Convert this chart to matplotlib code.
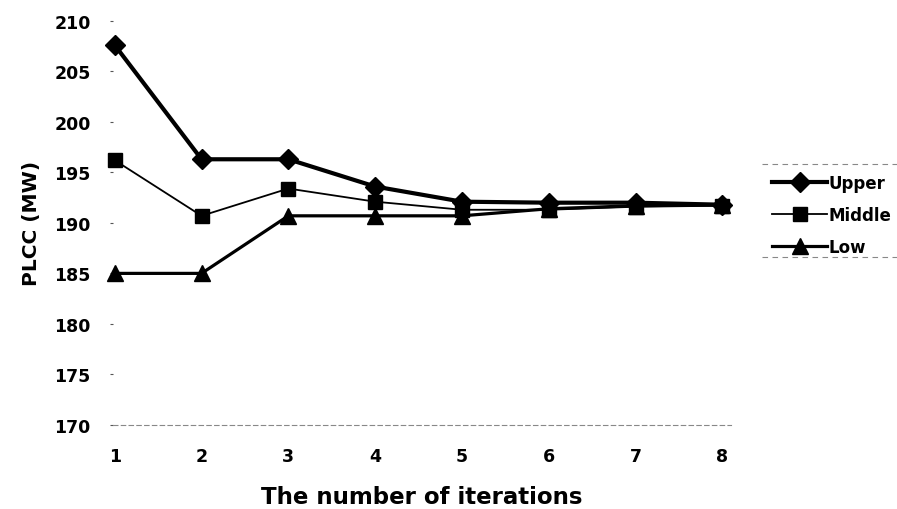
import matplotlib.pyplot as plt
from matplotlib.lines import Line2D

iterations = [1, 2, 3, 4, 5, 6, 7, 8]
upper = [207.6, 196.3, 196.3, 193.6, 192.1, 192.0, 192.0, 191.8]
middle = [196.2, 190.7, 193.4, 192.1, 191.3, 191.3, 191.6, 191.7]
low = [185.0, 185.0, 190.7, 190.7, 190.7, 191.4, 191.7, 191.8]
yticks = [170, 175, 180, 185, 190, 195, 200, 205, 210]

plt.rcParams['font.family'] = ['DejaVu Sans']

fig = plt.figure(figsize=(8.97, 5.10), dpi=100)
ax = fig.add_axes([0.126, 0.165, 0.689, 0.792])

ax.plot(iterations, upper, color='black', lw=3, marker='D', ms=10,
        label='Upper', clip_on=False, zorder=4)
ax.plot(iterations, middle, color='black', lw=1.3, marker='s', ms=10,
        label='Middle', clip_on=False, zorder=3)
ax.plot(iterations, low, color='black', lw=2.3, marker='^', ms=12,
        label='Low', clip_on=False, zorder=3)

ax.set_xlim(0.98, 8.1)
ax.set_ylim(170, 210)
ax.set_xticks(iterations)
ax.set_yticks(yticks)
for s in ['top', 'right', 'left']:
    ax.spines[s].set_visible(False)
ax.spines['bottom'].set_linestyle((0, (4, 3)))
ax.spines['bottom'].set_color('#888888')
ax.spines['bottom'].set_linewidth(0.8)
ax.tick_params(axis='y', length=2, width=0.8, pad=14, labelsize=12.5, color='#555555')
ax.tick_params(axis='x', length=0, pad=16, labelsize=12.5)
for lab in ax.get_xticklabels() + ax.get_yticklabels():
    lab.set_fontweight('bold')

ax.set_ylabel('PLCC (MW)', fontsize=14.5, fontweight='heavy', labelpad=10)
ax.set_xlabel('The number of iterations', fontsize=16.5, fontweight='heavy', labelpad=14)

leg = fig.legend(loc='upper left', bbox_to_anchor=(0.848, 0.68), frameon=False,
                 prop={'size': 12, 'weight': 'bold'}, handlelength=3.3,
                 handletextpad=0.1, labelspacing=0.85, borderpad=0.2)

# dashed rules above and below the legend
for yy in [0.676, 0.494]:
    fig.add_artist(Line2D([0.85, 1.0], [yy, yy], transform=fig.transFigure,
                          color='#888888', lw=0.8, ls=(0, (5, 4))))

fig.savefig('out.png', dpi=100)
